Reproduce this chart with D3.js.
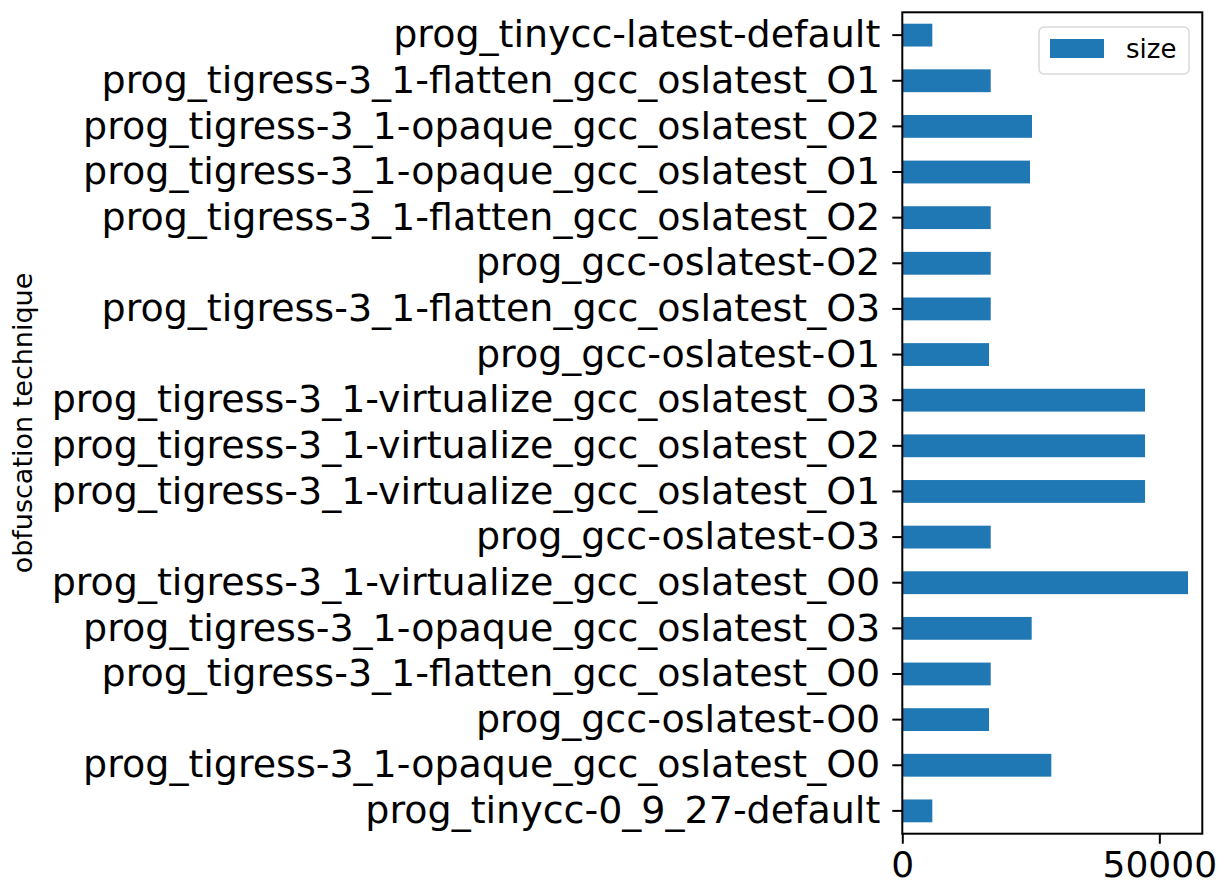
<!DOCTYPE html>
<html>
<head>
<meta charset="utf-8">
<script src="https://cdn.jsdelivr.net/npm/d3@7"></script>
<style>
  body { margin: 0; background: #fff; }
  text { font-family: "DejaVu Sans", sans-serif; fill: #000; }
</style>
</head>
<body>
<div class="chart"></div>
<script>
// categories top to bottom as drawn
const categories = [
  "prog_tinycc-latest-default",
  "prog_tigress-3_1-flatten_gcc_oslatest_O1",
  "prog_tigress-3_1-opaque_gcc_oslatest_O2",
  "prog_tigress-3_1-opaque_gcc_oslatest_O1",
  "prog_tigress-3_1-flatten_gcc_oslatest_O2",
  "prog_gcc-oslatest-O2",
  "prog_tigress-3_1-flatten_gcc_oslatest_O3",
  "prog_gcc-oslatest-O1",
  "prog_tigress-3_1-virtualize_gcc_oslatest_O3",
  "prog_tigress-3_1-virtualize_gcc_oslatest_O2",
  "prog_tigress-3_1-virtualize_gcc_oslatest_O1",
  "prog_gcc-oslatest-O3",
  "prog_tigress-3_1-virtualize_gcc_oslatest_O0",
  "prog_tigress-3_1-opaque_gcc_oslatest_O3",
  "prog_tigress-3_1-flatten_gcc_oslatest_O0",
  "prog_gcc-oslatest-O0",
  "prog_tigress-3_1-opaque_gcc_oslatest_O0",
  "prog_tinycc-0_9_27-default"
];
const sizes = [
  5840, 17200, 25230, 24840, 17200, 17200, 17200, 16870, 47220,
  47220, 47220, 17200, 55580, 25170, 17200, 16870, 28990, 5840
];
const xTicks = [0, 50000];
const seriesName = "size";
const yLabel = "obfuscation technique";

const W = 1226, H = 884;
const plotLeft = 902.3, plotRight = 1202.3, plotTop = 12.3, plotBottom = 833.7;

const svg = d3.select(".chart").append("svg")
  .attr("width", W).attr("height", H);

const x = d3.scaleLinear()
  .domain([0, d3.max(sizes) * 1.05])
  .range([plotLeft, plotRight]);
const y = d3.scaleBand()
  .domain(categories)
  .range([plotTop, plotBottom])
  .paddingInner(0.5)
  .paddingOuter(0.25);

const data = categories.map((c, i) => ({ key: c, value: sizes[i] }));

svg.append("g")
  .selectAll("rect")
  .data(data)
  .enter().append("rect")
    .attr("x", x(0))
    .attr("y", d => y(d.key))
    .attr("width", d => x(d.value) - x(0))
    .attr("height", y.bandwidth())
    .attr("fill", "#1f77b4");

// y axis
let yAxis = svg.append("g")
  .attr("transform", `translate(${plotLeft},0)`)
  .call(d3.axisLeft(y).tickSize(10).tickPadding(12));
yAxis.select(".domain").remove();
yAxis.selectAll("line").attr("stroke", "#000").attr("stroke-width", 2);
yAxis.selectAll("text")
  .attr("font-size", 38)
  .attr("font-family", "DejaVu Sans")
  .attr("fill", "#000");

// x axis
let xAxis = svg.append("g")
  .attr("transform", `translate(0,${plotBottom})`)
  .call(d3.axisBottom(x).tickValues(xTicks).tickSize(10).tickPadding(8).tickFormat(d3.format("d")));
xAxis.select(".domain").remove();
xAxis.selectAll("line").attr("stroke", "#000").attr("stroke-width", 2);
xAxis.selectAll("text")
  .attr("font-size", 36)
  .attr("font-family", "DejaVu Sans")
  .attr("fill", "#000");

// spines
svg.append("rect")
  .attr("x", plotLeft).attr("y", plotTop)
  .attr("width", plotRight - plotLeft).attr("height", plotBottom - plotTop)
  .attr("fill", "none")
  .attr("stroke", "#000")
  .attr("stroke-width", 2);

// y label
svg.append("text")
  .attr("transform", `translate(32,${(plotTop + plotBottom) / 2}) rotate(-90)`)
  .attr("text-anchor", "middle")
  .attr("font-size", 27)
  .text(yLabel);

// legend
let lg = svg.append("g").attr("transform", "translate(1039,27)");
lg.append("rect")
  .attr("width", 150).attr("height", 47)
  .attr("rx", 5)
  .attr("fill", "#fff").attr("fill-opacity", 0.8)
  .attr("stroke", "#d9d9d9").attr("stroke-width", 1.5);
lg.append("rect")
  .attr("x", 11).attr("y", 12)
  .attr("width", 54).attr("height", 19)
  .attr("fill", "#1f77b4");
lg.append("text")
  .attr("x", 87).attr("y", 22)
  .attr("dy", "0.35em")
  .attr("font-size", 26)
  .text(seriesName);
</script>
</body>
</html>
